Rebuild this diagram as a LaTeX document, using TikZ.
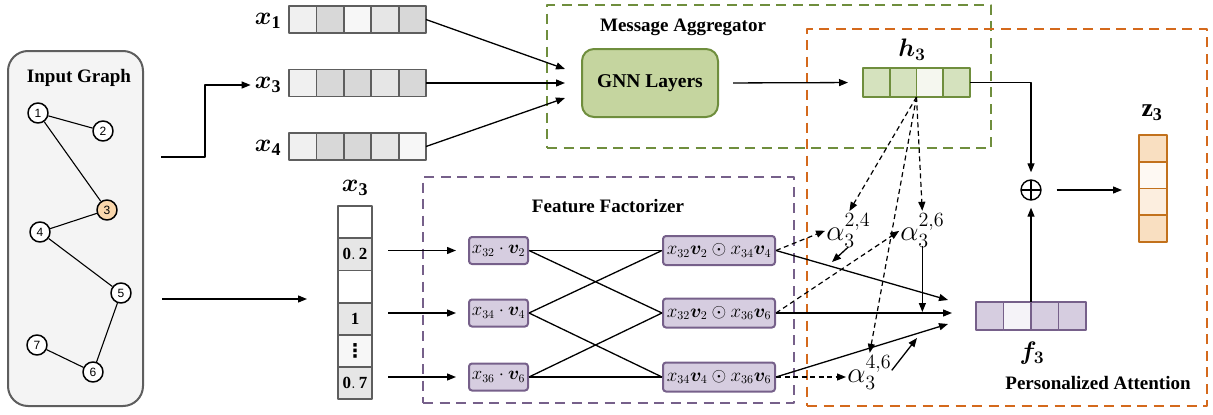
\documentclass[tikz,border=0pt]{standalone}
\usepackage{amsmath,bm}
\usepackage{graphicx}
\usepackage{fontspec}
\setmainfont{Liberation Serif}
\newfontfamily\arialf{Liberation Sans}
\newfontfamily\djv{DejaVu Sans}
\usetikzlibrary{arrows.meta}
\newcommand\alw[2]{$\alpha_{#1}^{#2}$}
\definecolor{gborder}{HTML}{5E5E5E}
\definecolor{igfill}{HTML}{F4F4F4}
\definecolor{gA}{HTML}{F0F0F0}
\definecolor{gB}{HTML}{D8D8D8}
\definecolor{gC}{HTML}{F7F7F7}
\definecolor{gD}{HTML}{E6E6E6}
\definecolor{greenD}{HTML}{6F8E3D}
\definecolor{gnnfill}{HTML}{C5D59F}
\definecolor{hA}{HTML}{D5E2BE}
\definecolor{hB}{HTML}{F5F7EF}
\definecolor{orangeD}{HTML}{D4691C}
\definecolor{zD}{HTML}{C2711C}
\definecolor{zA}{HTML}{F9DFC1}
\definecolor{zB}{HTML}{FEF9F3}
\definecolor{zC}{HTML}{FCEEDF}
\definecolor{purpD}{HTML}{76608A}
\definecolor{pA}{HTML}{D6CDE0}
\definecolor{pB}{HTML}{F5F3F8}
\definecolor{nthree}{HTML}{FAD7AC}
\tikzset{
  dbox/.style={line width=2.5pt, dash pattern=on 10pt off 6.5pt, minimum width=#1},
  title/.style={font=\fontsize{19}{21}\selectfont\bfseries, inner sep=0pt},
  mlab/.style={font=\fontsize{21}{23}\selectfont, inner sep=0pt, scale=1.22},
  alab/.style={font=\fontsize{20}{22}\selectfont, inner sep=0pt, anchor=base west, scale=1.4},
  cell/.style={draw=gborder, line width=1.8pt, minimum width=27.4pt, minimum height=27pt, inner sep=0pt, outer sep=0pt},
  vcell/.style={draw=gborder, line width=1.8pt, minimum width=34pt, minimum height=32.2pt, inner sep=0pt, outer sep=0pt, font=\fontsize{17}{17}\selectfont},
  hcell/.style={draw=greenD, line width=1.8pt, minimum width=26.75pt, minimum height=29pt, inner sep=0pt, outer sep=0pt, fill=hA},
  zcell/.style={draw=zD, line width=1.8pt, minimum width=28pt, minimum height=26.75pt, inner sep=0pt, outer sep=0pt, fill=zA},
  fcell/.style={draw=purpD, line width=1.8pt, minimum width=27.5pt, minimum height=28pt, inner sep=0pt, outer sep=0pt, fill=pA},
  gnode/.style={circle, draw=black, line width=1.5pt, fill=white, minimum size=20pt, inner sep=0pt, font=\arialf\fontsize{12}{12}\selectfont},
  gedge/.style={line width=1.1pt},
  fbox/.style={draw=purpD, fill=pA, line width=2pt, rounded corners=3pt, minimum height=27pt, inner sep=0pt, font=\fontsize{16}{18}\selectfont},
  arr/.style={-{Triangle[length=9pt,width=7pt]}, line width=1.3pt},
  darr/.style={-{Triangle[length=9pt,width=7pt]}, line width=1.2pt, dash pattern=on 5pt off 3.5pt},
  ln/.style={line width=1.3pt}
}
\begin{document}
\begin{tikzpicture}[x=1pt,y=-1pt,line join=round]
\path[use as bounding box] (0,0) rectangle (1213,415);

% dashed module boxes
\node[dbox=444pt, draw=greenD, minimum height=143pt] (ma) at (769,76.5) {};
\node[dbox=371pt, draw=purpD, minimum height=226pt] (ff) at (608.5,290) {};
\node[dbox=400pt, draw=orangeD, minimum height=377pt] (pa) at (1007,217.5) {};
\node[title] (tma) at (683,27) {Message Aggregator};
\node[title] (tff) at (608,206) {Feature Factorizer};
\node[title] (tpa) at (1098,383) {Personalized Attention};

% input graph
\node[draw=gborder, fill=igfill, line width=2pt, rounded corners=20pt, minimum width=135pt, minimum height=355pt] (ig) at (75.5,228.5) {};
\node[title] (tig) at (79,78) {Input Graph};
\node[gnode] (n1) at (38,113) {1};
\node[gnode] (n2) at (103,131) {2};
\node[gnode, fill=nthree] (n3) at (107,210) {3};
\node[gnode] (n4) at (40,232) {4};
\node[gnode] (n5) at (121,293) {5};
\node[gnode] (n6) at (93,372) {6};
\node[gnode] (n7) at (37,345) {7};
\draw[gedge] (n1) -- (n2);
\draw[gedge] (n1) -- (n3);
\draw[gedge] (n3) -- (n4);
\draw[gedge] (n4) -- (n5);
\draw[gedge] (n5) -- (n6);
\draw[gedge] (n6) -- (n7);

% feature vectors x1 x3 x4
\foreach \c [count=\i] in {gA,gB,gC,gD,gB}
  \node[cell, fill=\c] (xa-\i) at ({289+27.4*(\i-0.5)},19.5) {};
\foreach \c [count=\i] in {gA,gB,gB,gD,gB}
  \node[cell, fill=\c] (xb-\i) at ({289+27.4*(\i-0.5)},83) {};
\foreach \c [count=\i] in {gA,gB,gB,gD,gC}
  \node[cell, fill=\c] (xc-\i) at ({289+27.4*(\i-0.5)},146.5) {};
\node[mlab] (lx1) at (268,21) {$\bm{x}_{\mathbf{1}}$};
\node[mlab] (lx3) at (268,85) {$\bm{x}_{\mathbf{3}}$};
\node[mlab] (lx4) at (268,148) {$\bm{x}_{\mathbf{4}}$};

% arrows from input graph
\coordinate (go1) at (161,157);
\coordinate (go2) at (162,299);
\coordinate (gi2) at (307,299);
\draw[arr] (go1) -- ++(44,0) |- ([xshift=-4pt]lx3.west);
\draw[arr] (go2) -- (gi2);

% GNN
\node[draw=greenD, fill=gnnfill, line width=2pt, rounded corners=12pt, minimum width=136pt, minimum height=68pt, font=\fontsize{19.5}{21}\selectfont\bfseries] (gnn) at (650,83) {GNN Layers};
\coordinate (ci1) at (565,69);
\coordinate (ci2) at (565,83);
\coordinate (ci3) at (565,98);
\draw[arr] (xa-5.east) -- (ci1);
\draw[arr] (xb-5.east) -- (ci2);
\draw[arr] (xc-5.east) -- (ci3);

% h3
\foreach \c [count=\i] in {hA,hA,hB,hA}
  \node[hcell, fill=\c] (h-\i) at ({863+26.75*(\i-0.5)},82.5) {};
\node[mlab] (lh3) at (912,50) {$\bm{h}_{\bm{3}}$};
\draw[arr, shorten <=14pt, shorten >=15pt] (gnn.east) -- (h-1.west);

% plus and z3
\node[circle, draw=black, line width=1.4pt, minimum size=20pt, inner sep=0pt,
  path picture={\draw[line width=1.4pt] (path picture bounding box.north) -- (path picture bounding box.south) (path picture bounding box.west) -- (path picture bounding box.east);}] (plus) at (1031,190) {};
\foreach \c [count=\i] in {zA,zB,zC,zA}
  \node[zcell, fill=\c] (z-\i) at (1153,{135+26.75*(\i-0.5)}) {};
\node[mlab] (lz3) at (1152,113) {$\mathbf{z}_{\mathbf{3}}$};
\draw[arr, shorten >=7pt] (h-4.east) -| (plus.north);
\draw[arr, shorten <=15pt, shorten >=17pt] (plus.east) -- (plus.east -| z-1.west);

% f3
\foreach \c [count=\i] in {pA,pB,pA,pA}
  \node[fcell, fill=\c] (f-\i) at ({976+27.5*(\i-0.5)},316) {};
\node[mlab] (lf3) at (1032,353) {$\bm{f}_{\bm{3}}$};
\draw[arr, shorten >=7pt] (f-2.north east) -- (plus.south);

% x3 column
\node[vcell, fill=white] (v-1) at (355,222.1) {};
\node[vcell, fill=gD] (v-2) at (355,254.3) {$\mathbf{0.\,2}$};
\node[vcell, fill=white] (v-3) at (355,286.5) {};
\node[vcell, fill=gD] (v-4) at (355,318.7) {$\mathbf{1}$};
\node[vcell, fill=gC] (v-5) at (355,350.9) {{\djv\bfseries\fontsize{19}{19}\selectfont ⋮}};
\node[vcell, fill=gD] (v-6) at (355,383.1) {$\mathbf{0.\,7}$};
\node[mlab] (lxv) at (355,188) {$\bm{x}_{\mathbf{3}}$};

% factor boxes
\node[fbox, minimum width=59pt] (l1) at (498.5,250.5) {\scalebox{1.08}{$x_{32}\cdot\bm{v}_2$}};
\node[fbox, minimum width=59pt] (l2) at (498.5,313) {\scalebox{1.08}{$x_{34}\cdot\bm{v}_4$}};
\node[fbox, minimum width=59pt] (l3) at (498.5,377) {\scalebox{1.08}{$x_{36}\cdot\bm{v}_6$}};
\node[fbox, minimum width=112pt, minimum height=29pt] (r1) at (719,250.5) {\scalebox{1.1}{$x_{32}\bm{v}_2\odot x_{34}\bm{v}_4$}};
\node[fbox, minimum width=112pt, minimum height=29pt] (r2) at (719,313) {\scalebox{1.1}{$x_{32}\bm{v}_2\odot x_{36}\bm{v}_6$}};
\node[fbox, minimum width=112pt, minimum height=29pt] (r3) at (719,377) {\scalebox{1.1}{$x_{34}\bm{v}_4\odot x_{36}\bm{v}_6$}};
\draw[arr, shorten <=16pt, shorten >=12pt] (l1.west -| v-2.east) -- (l1.west);
\draw[arr, shorten <=16pt, shorten >=12pt] (l2.west -| v-4.east) -- (l2.west);
\draw[arr, shorten <=16pt, shorten >=12pt] (l3.west -| v-6.east) -- (l3.west);
\draw[ln] (l1.east) -- (r1.west);
\draw[ln] (l1.east) -- (r2.west);
\draw[ln] (l2.east) -- (r1.west);
\draw[ln] (l2.east) -- (r3.west);
\draw[ln] (l3.east) -- (r2.west);
\draw[ln] (l3.east) -- (r3.west);

% attention weights
\node[alab] (a24) at (826,240) {\alw{3}{2,4}};
\node[alab] (a26) at (900,240) {\alw{3}{2,6}};
\node[alab] (a46) at (847,382) {\alw{3}{4,6}};
\draw[darr, shorten >=2pt] (h-2.south east) -- (a24.north);
\draw[darr, shorten >=2pt] (h-2.south east) -- (a26.north);
\draw[darr, shorten >=2pt] (h-2.south east) -- (a46.north);
\draw[darr, shorten >=1pt] (r1.east) -- (a24.west);
\draw[darr, shorten >=1pt] (r2.east) -- (a26.west);
\draw[darr, shorten >=1pt] (r3.east) -- (r3.east -| a46.west);

% into f3
\coordinate (fi1) at (948,300);
\coordinate (fi2) at (952,313);
\coordinate (fi3) at (948,324);
\draw[arr] (r1.east) -- (fi1);
\draw[arr] (r2.east) -- (fi2);
\draw[arr] (r3.east) -- (fi3);
\coordinate (e24) at (832,262);
\coordinate (e46) at (917,338);
\draw[arr] ([yshift=1pt]a24.south) -- (e24);
\draw[arr, shorten >=1pt] ([yshift=2pt]a26.south) -- (a26.south |- r2.east);
\draw[arr] ([yshift=2pt]a46.east) -- (e46);
\end{tikzpicture}
\end{document}
